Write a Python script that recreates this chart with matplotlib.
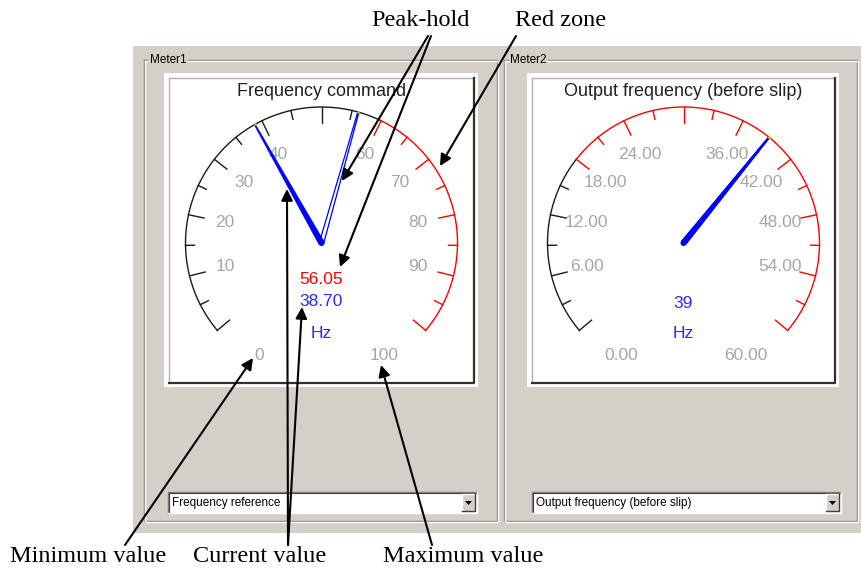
import numpy as np
import matplotlib
matplotlib.use("Agg")
import matplotlib.pyplot as plt
from matplotlib.patches import Rectangle, Polygon, Circle

# ---------------- data ----------------
meter_names = ["Meter1", "Meter2"]
gauge_titles = ["Frequency command", "Output frequency (before slip)"]
combo_texts = ["Frequency reference", "Output frequency (before slip)"]

meter1_min, meter1_max = 0, 100
meter1_red_start = 60
meter1_tick_values = [0, 10, 20, 30, 40, 50, 60, 70, 80, 90, 100]
meter1_tick_labels = ["0", "10", "20", "30", "40", "", "60", "70", "80", "90", "100"]
meter1_current = 38.70
meter1_peak = 56.05
meter1_current_text = "38.70"
meter1_peak_text = "56.05"

meter2_min, meter2_max = 0, 60
meter2_red_start = 18
meter2_tick_values = [0, 6, 12, 18, 24, 30, 36, 42, 48, 54, 60]
meter2_tick_labels = ["0.00", "6.00", "12.00", "18.00", "24.00", "",
                      "36.00", "42.00", "48.00", "54.00", "60.00"]
meter2_current = 39
meter2_peak = 39
meter2_current_text = "39"

unit_text = "Hz"
callout_texts = ["Peak-hold", "Red zone", "Minimum value", "Current value", "Maximum value"]

# ---------------- style ----------------
W, H = 861, 571
PANEL = "#d4d0c8"
TICKLBL = "#a6a6a6"
BLUE = "#0000ff"
BLUE_T = "#2a2aff"
RED = "#ff0000"
UI = "Liberation Sans"
SERIF = "Liberation Serif"

fig = plt.figure(figsize=(W / 100, H / 100), dpi=100)
ax = fig.add_axes([0, 0, 1, 1])
ax.set_xlim(0, W)
ax.set_ylim(H, 0)
ax.axis("off")
fig.patch.set_facecolor("white")

# gray window panel
ax.add_patch(Rectangle((133, 46), W - 133, 533 - 46, facecolor=PANEL, edgecolor="none", zorder=0))


def etched_frame(x0, y0, x1, y1, label):
    for off, col in ((0, "#808080"), (1, "white")):
        ax.plot([x0 + off, x1 + off, x1 + off, x0 + off, x0 + off],
                [y0 + off, y0 + off, y1 + off, y1 + off, y0 + off],
                color=col, lw=1, zorder=1, solid_joinstyle="miter")
    ax.text(x0 + 6, y0, label, fontsize=8.5, family=UI, color="black", va="center", ha="left",
            zorder=2, bbox=dict(facecolor=PANEL, edgecolor="none", pad=1.0))


etched_frame(144, 60, 497, 521, meter_names[0])
etched_frame(504, 60, 857, 521, meter_names[1])


def gauge_box(x0, y0, x1, y1):
    ax.add_patch(Rectangle((x0 - 5, y0 - 5), (x1 - x0) + 9, (y1 - y0) + 9,
                           facecolor="white", edgecolor="none", zorder=1))
    ax.plot([x0, x0, x1], [y1, y0, y0], color="#b0b0b0", lw=1, zorder=2)
    ax.plot([x1, x1, x0], [y0, y1, y1], color="#303030", lw=1.6, zorder=2)


gauge_box(169, 78, 474, 383)
gauge_box(532, 78, 835, 383)

R = 136


def draw_gauge(cx, cy, vmin, vmax, red_start, tick_vals, tick_labels, current, peak, title):
    def ang(v):
        return np.deg2rad(220 - (v - vmin) / (vmax - vmin) * 260)

    def pt(r, a):
        return cx + r * np.cos(a), cy - r * np.sin(a)

    # arcs
    for lo, hi, col in ((vmin, red_start, "#1a1a1a"), (red_start, vmax, RED)):
        a = np.linspace(ang(lo), ang(hi), 200)
        x, y = pt(R, a)
        ax.plot(x, y, color=col, lw=1.0, zorder=3)
    # ticks (major at labelled values, minor halfway)
    step = tick_vals[1] - tick_vals[0]
    minors = [v + step / 2 for v in tick_vals[:-1]]
    for v in list(tick_vals) + minors:
        is_major = v in tick_vals
        L = 16 if is_major else 9
        a = ang(v)
        col = RED if v >= red_start else "#1a1a1a"
        x0, y0 = pt(R, a)
        x1, y1 = pt(R - L, a)
        ax.plot([x0, x1], [y0, y1], color=col, lw=1.0, zorder=3)
    # tick labels
    for v, lbl in zip(tick_vals, tick_labels):
        a = ang(v)
        if v == vmin:
            x, y = pt(129, a + np.deg2rad(21))
        elif v == vmax:
            x, y = pt(129, a - np.deg2rad(21))
        else:
            x, y = pt(99, a)
        ax.text(x, y, lbl, fontsize=12.5, family=UI, color=TICKLBL, ha="center", va="center", zorder=4)
    # title
    ax.text(cx, 92, title, fontsize=13, family=UI, color="#202020", ha="center", va="center", zorder=4)

    c = np.array([cx, cy])
    # peak-hold needle (outline)
    a = ang(peak)
    d = np.array([np.cos(a), -np.sin(a)])
    p = np.array([-d[1], d[0]])
    tip = c + d * (R - 1)
    poly = [c + p * 2.2, tip + p * 0.6, tip - p * 0.6, c - p * 2.2]
    ax.add_patch(Polygon(poly, closed=True, facecolor="white", edgecolor=BLUE, lw=0.9, zorder=5))

    # current needle (filled, tapered)
    a = ang(current)
    d = np.array([np.cos(a), -np.sin(a)])
    p = np.array([-d[1], d[0]])
    tip = c + d * (R - 1)
    poly = [c + p * 2.8, tip + p * 0.5, tip - p * 0.5, c - p * 2.8]
    ax.add_patch(Polygon(poly, closed=True, facecolor=BLUE, edgecolor=BLUE, lw=0.6, zorder=6))
    ax.add_patch(Circle((cx, cy), 3.0, facecolor=BLUE, edgecolor="none", zorder=6))
    # small yellow markers where needles meet the scale
    for v in (current, peak):
        x, y = pt(R, ang(v))
        ax.plot(x, y, marker="s", ms=1.5, color="#e8d000", mec="none", zorder=7)


draw_gauge(321.5, 243, meter1_min, meter1_max, meter1_red_start, meter1_tick_values,
           meter1_tick_labels, meter1_current, meter1_peak, gauge_titles[0])
draw_gauge(683.5, 243, meter2_min, meter2_max, meter2_red_start, meter2_tick_values,
           meter2_tick_labels, meter2_current, meter2_peak, gauge_titles[1])

# value readouts
ax.text(321.5, 279, meter1_peak_text, fontsize=12.5, family=UI, color=RED, ha="center", va="center", zorder=4)
ax.text(321.5, 302, meter1_current_text, fontsize=12.5, family=UI, color=BLUE_T, ha="center", va="center", zorder=4)
ax.text(321.5, 333, unit_text, fontsize=12.5, family=UI, color=BLUE_T, ha="center", va="center", zorder=4)
ax.text(683.5, 303, meter2_current_text, fontsize=12.5, family=UI, color=BLUE_T, ha="center", va="center", zorder=4)
ax.text(683.5, 333, unit_text, fontsize=12.5, family=UI, color=BLUE_T, ha="center", va="center", zorder=4)


# combo boxes
def combo(x0, y0, x1, y1, text):
    ax.add_patch(Rectangle((x0, y0), x1 - x0, y1 - y0, facecolor="white", edgecolor="none", zorder=2))
    ax.plot([x0, x0, x1], [y1, y0, y0], color="#808080", lw=1, zorder=3)
    ax.plot([x0 + 1, x0 + 1, x1 - 1], [y1 - 1, y0 + 1, y0 + 1], color="#404040", lw=0.8, zorder=3)
    ax.plot([x1, x1, x0], [y0, y1, y1], color="#ffffff", lw=1, zorder=3)
    bx0, bx1 = x1 - 15, x1 - 2
    by0, by1 = y0 + 2, y1 - 2
    ax.add_patch(Rectangle((bx0, by0), bx1 - bx0, by1 - by0, facecolor=PANEL, edgecolor="none", zorder=3))
    ax.plot([bx0, bx0, bx1], [by1, by0, by0], color="white", lw=1, zorder=4)
    ax.plot([bx1, bx1, bx0], [by0, by1, by1], color="#404040", lw=1, zorder=4)
    mx, my = (bx0 + bx1) / 2, (by0 + by1) / 2
    ax.add_patch(Polygon([(mx - 3.5, my - 1.5), (mx + 3.5, my - 1.5), (mx, my + 2.5)],
                         closed=True, facecolor="black", edgecolor="none", zorder=5))
    ax.text(x0 + 4, (y0 + y1) / 2 + 0.5, text, fontsize=8.5, family=UI, color="black",
            ha="left", va="center", zorder=4)


combo(168, 492, 477, 513, combo_texts[0])
combo(532, 492, 841, 513, combo_texts[1])

# callouts
arrow_kw = dict(arrowstyle="-|>", color="black", lw=1.5, mutation_scale=17, shrinkA=0, shrinkB=0)
callouts = [
    (callout_texts[0], (420, 21), [((428, 36), (342, 181)), ((431, 36), (340, 267))]),
    (callout_texts[1], (561, 21), [((516, 36), (440, 166))]),
    (callout_texts[2], (88, 557), [((125, 545), (253, 358))]),
    (callout_texts[3], (260, 557), [((288, 545), (287, 189)), ((288, 545), (302, 307))]),
    (callout_texts[4], (463, 557), [((432, 545), (381, 365))]),
]
for text, tpos, arrows in callouts:
    ax.text(tpos[0], tpos[1], text, fontsize=17.5, family=SERIF, color="black",
            ha="center", va="center", zorder=10)
    for start, end in arrows:
        ax.annotate("", xy=end, xytext=start, arrowprops=arrow_kw, zorder=10)

fig.savefig("out.png", dpi=100, facecolor="white")
